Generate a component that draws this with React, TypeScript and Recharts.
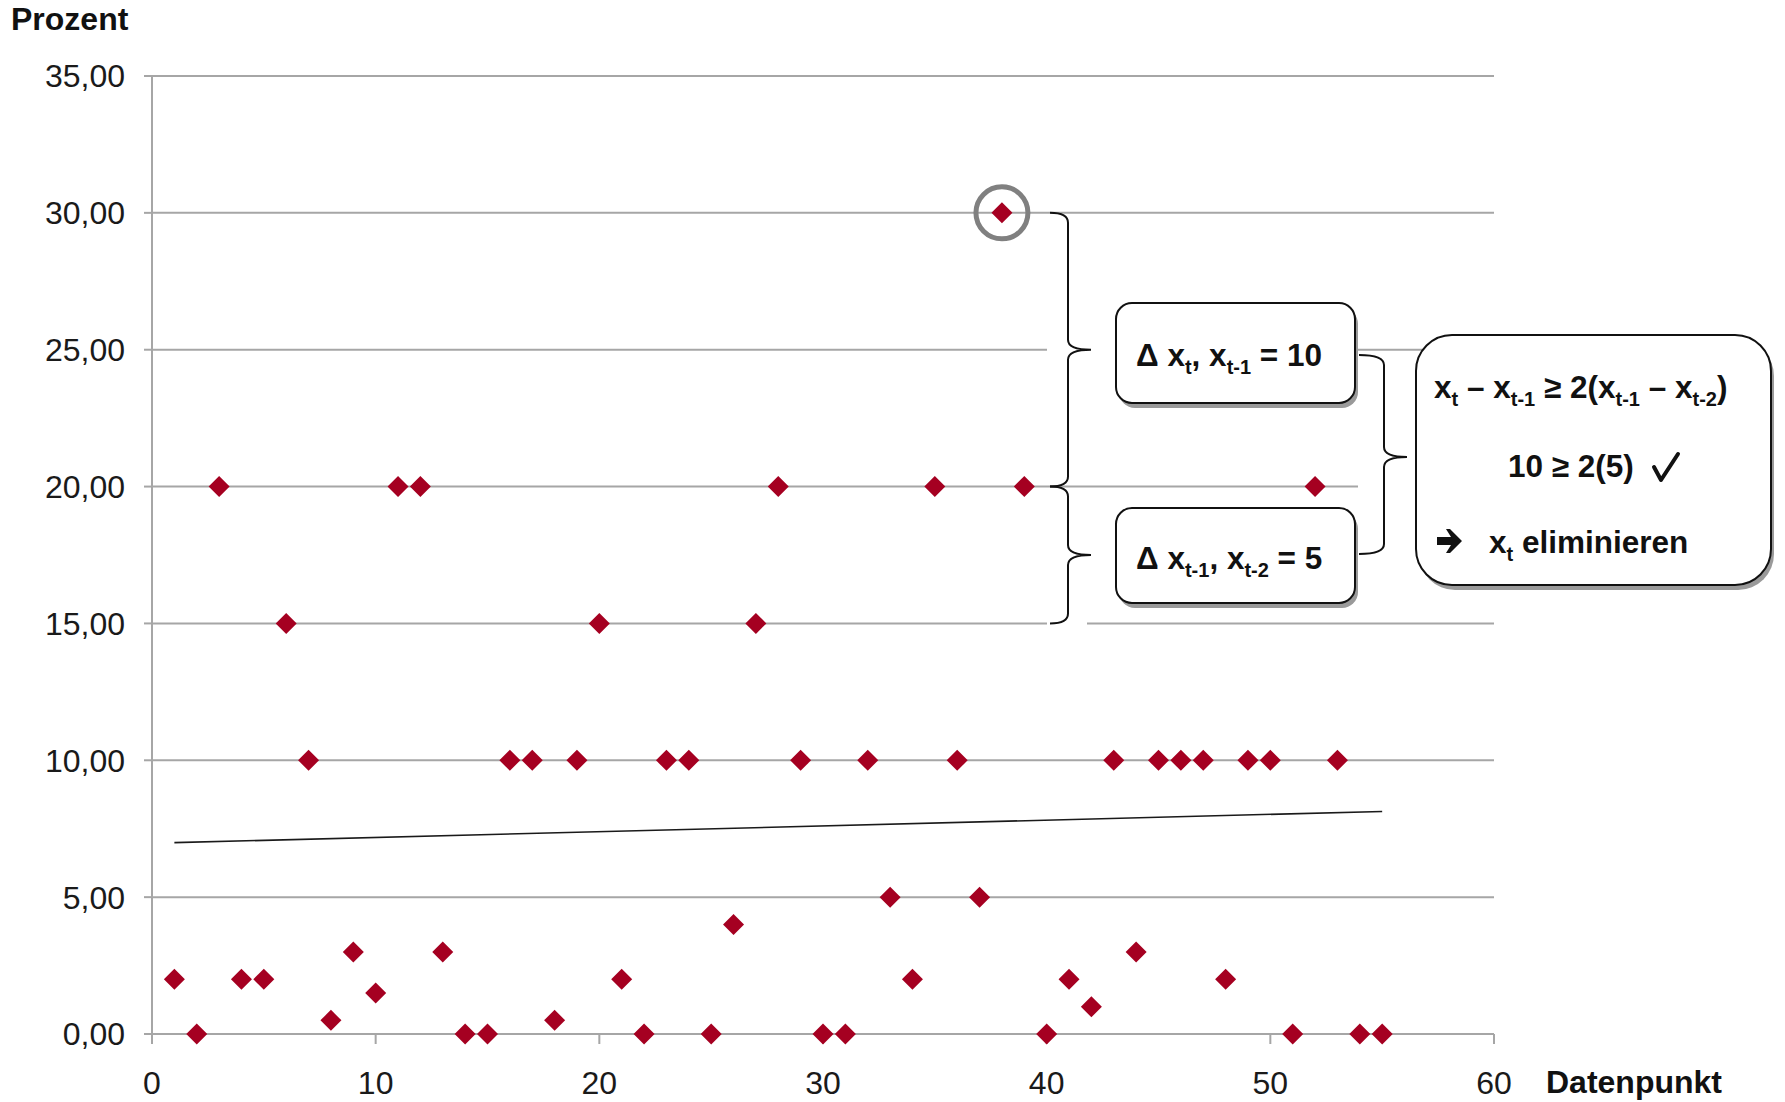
import { ScatterChart, Scatter, XAxis, YAxis, CartesianGrid, ReferenceDot } from 'recharts'

const FONT = "'Liberation Sans', Arial, 'DejaVu Sans', sans-serif"
const RED = '#a50021'
const GRID = '#a6a6a6'

// Datenpunkt 1..55 and the value in Prozent
const datenpunkte = [
  1, 2, 3, 4, 5, 6, 7, 8, 9, 10, 11, 12, 13, 14, 15, 16, 17, 18, 19, 20,
  21, 22, 23, 24, 25, 26, 27, 28, 29, 30, 31, 32, 33, 34, 35, 36, 37, 38, 39, 40,
  41, 42, 43, 44, 45, 46, 47, 48, 49, 50, 51, 52, 53, 54, 55,
]
const prozent = [
  2, 0, 20, 2, 2, 15, 10, 0.5, 3, 1.5, 20, 20, 3, 0, 0, 10, 10, 0.5, 10, 15,
  2, 0, 10, 10, 0, 4, 15, 20, 10, 0, 0, 10, 5, 2, 20, 10, 5, 30, 20, 0,
  2, 1, 10, 3, 10, 10, 10, 2, 10, 10, 0, 20, 10, 0, 0,
]
// linear trend line, ends
const trendX = [1, 55]
const trendY = [6.99, 8.13]

const xTicks = [0, 10, 20, 30, 40, 50, 60]
const yTicks = [0, 5, 10, 15, 20, 25, 30, 35]

const points = datenpunkte.map((x, i) => ({ x, y: prozent[i] }))
const trend = trendX.map((x, i) => ({ x, y: trendY[i] }))

// plot area (matches chart margins below), used for the annotation overlay
const PL = 152
const PR = 1494
const PT = 76
const PB = 1034
const sy = (v: number) => PT + ((35 - v) / 35) * (PB - PT)

const TXT = 31.5

const Diamond = (props: any) => {
  const { cx, cy } = props
  const r = 10.5
  return <polygon points={`${cx},${cy - r} ${cx + r},${cy} ${cx},${cy + r} ${cx - r},${cy}`} fill={RED} />
}

const bracePath = (x0: number, x1: number, x2: number, yTop: number, yMid: number, yBot: number) => {
  const r = 10
  return `M${x0},${yTop} Q${x1},${yTop} ${x1},${yTop + r} L${x1},${yMid - r} Q${x1},${yMid} ${x2},${yMid} Q${x1},${yMid} ${x1},${yMid + r} L${x1},${yBot - r} Q${x1},${yBot} ${x0},${yBot}`
}

const Box = ({ x, y, w, h, r }: { x: number; y: number; w: number; h: number; r: number }) => (
  <g>
    <rect x={x + 3} y={y + 5} width={w} height={h} rx={r} fill="#9a9a9a" />
    <rect x={x} y={y} width={w} height={h} rx={r} fill="#fff" stroke="#111" strokeWidth={2} />
  </g>
)

type Part = { t: string; sub?: boolean }

const Rich = ({ x, y, parts, size = TXT, anchor = 'start' }: { x: number; y: number; parts: Part[]; size?: number; anchor?: string }) => {
  const shift = Math.round(size * 0.24)
  return (
    <text x={x} y={y} fontSize={size} fontWeight="bold" fontFamily={FONT} fill="#111" textAnchor={anchor} style={{ whiteSpace: 'pre' }}>
      {parts.map((p, i) => {
        const prevSub = i > 0 && parts[i - 1].sub
        if (p.sub) {
          return (
            <tspan key={i} fontSize={Math.round(size * 0.65)} dy={prevSub ? 0 : shift}>
              {p.t}
            </tspan>
          )
        }
        return (
          <tspan key={i} dy={prevSub ? -shift : 0}>
            {p.t}
          </tspan>
        )
      })}
    </text>
  )
}

const fmt = (v: number) => v.toFixed(2).replace('.', ',')

export default function App() {
  return (
    <div style={{ position: 'absolute', left: 0, top: 0, width: 1785, height: 1102, background: '#fff' }}>
      <ScatterChart width={1785} height={1102} margin={{ top: PT, right: 1785 - PR, bottom: 0, left: 0 }}>
        <CartesianGrid horizontal vertical={false} stroke={GRID} strokeWidth={2} />
        <XAxis
          type="number"
          dataKey="x"
          domain={[0, 60]}
          ticks={xTicks}
          height={1102 - PB}
          axisLine={{ stroke: GRID, strokeWidth: 2 }}
          tickLine={{ stroke: GRID, strokeWidth: 2 }}
          tickSize={10}
          tickMargin={27}
          tick={{ fill: '#1a1a1a', fontSize: 32, fontFamily: FONT }}
        />
        <YAxis
          type="number"
          dataKey="y"
          domain={[0, 35]}
          ticks={yTicks}
          width={PL}
          tickFormatter={fmt}
          axisLine={{ stroke: GRID, strokeWidth: 2 }}
          tickLine={{ stroke: GRID, strokeWidth: 2 }}
          tickSize={8}
          tickMargin={19}
          tick={{ fill: '#1a1a1a', fontSize: 32, fontFamily: FONT }}
        />
        <Scatter data={trend} line={{ stroke: '#1a1a1a', strokeWidth: 1.6 }} shape={() => <g />} isAnimationActive={false} />
        <Scatter data={points} shape={Diamond} isAnimationActive={false} />
        <ReferenceDot x={38} y={30} r={26} fill="none" stroke="#808080" strokeWidth={5} />
      </ScatterChart>

      <svg width={1785} height={1102} style={{ position: 'absolute', left: 0, top: 0, pointerEvents: 'none' }}>
        {/* axis titles */}
        <text x={11} y={30} fontSize={32} fontWeight="bold" fontFamily={FONT} fill="#111">Prozent</text>
        <text x={1546} y={1093} fontSize={32} fontWeight="bold" fontFamily={FONT} fill="#111">Datenpunkt</text>

        {/* gaps in grid behind braces */}
        <rect x={1047} y={sy(25) - 3} width={70} height={6} fill="#fff" />
        <rect x={1047} y={sy(15) - 3} width={40} height={6} fill="#fff" />
        <rect x={1358} y={sy(20) - 3} width={58} height={6} fill="#fff" />

        {/* braces */}
        <path d={bracePath(1050, 1068, 1091, sy(30), sy(25), sy(20))} fill="none" stroke="#111" strokeWidth={2} />
        <path d={bracePath(1050, 1068, 1091, sy(20), sy(17.5), sy(15))} fill="none" stroke="#111" strokeWidth={2} />
        <path d={bracePath(1359, 1384, 1407, 355, 457, 554)} fill="none" stroke="#111" strokeWidth={2} />

        {/* boxes */}
        <Box x={1116} y={303} w={239} h={100} r={16} />
        <Box x={1116} y={508} w={239} h={95} r={16} />
        <Box x={1416} y={335} w={355} h={250} r={36} />

        <Rich x={1136} y={366} parts={[{ t: 'Δ x' }, { t: 't', sub: true }, { t: ', x' }, { t: 't-1', sub: true }, { t: ' = 10' }]} />
        <Rich x={1136} y={569} parts={[{ t: 'Δ x' }, { t: 't-1', sub: true }, { t: ', x' }, { t: 't-2', sub: true }, { t: ' = 5' }]} />

        <Rich
          x={1434}
          y={398}
          parts={[
            { t: 'x' }, { t: 't', sub: true }, { t: ' – x' }, { t: 't-1', sub: true }, { t: ' ≥ 2(x' },
            { t: 't-1', sub: true }, { t: ' – x' }, { t: 't-2', sub: true }, { t: ')' },
          ]}
        />
        <Rich x={1508} y={477} parts={[{ t: '10 ≥ 2(5)' }]} />
        {/* check mark */}
        <path d="M1654,467 L1661,480 L1678,454" fill="none" stroke="#111" strokeWidth={4} strokeLinejoin="round" strokeLinecap="round" />
        {/* heavy arrow */}
        <polygon points="1437,537 1451,537 1446,529 1450,529 1462,541 1450,553 1446,553 1451,545 1437,545" fill="#111" />
        <Rich x={1489} y={553} parts={[{ t: 'x' }, { t: 't', sub: true }, { t: ' eliminieren' }]} />
      </svg>
    </div>
  )
}
